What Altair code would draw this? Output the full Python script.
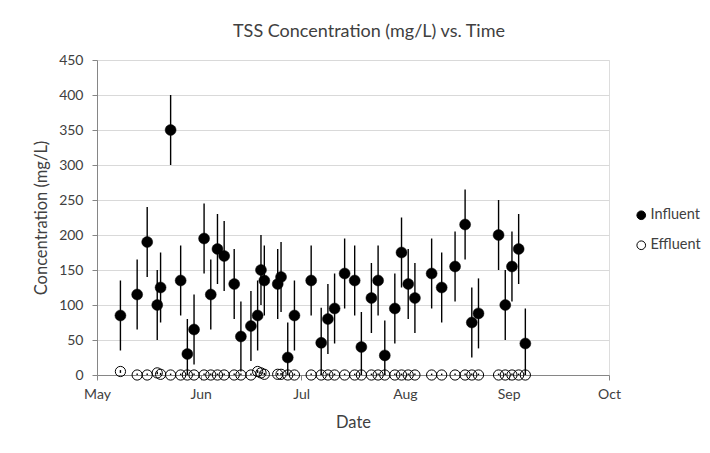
import altair as alt
import pandas as pd

dates = [
    "2013-05-08", "2013-05-13", "2013-05-16", "2013-05-19", "2013-05-20", "2013-05-23",
    "2013-05-26", "2013-05-28", "2013-05-30", "2013-06-02", "2013-06-04", "2013-06-06",
    "2013-06-08", "2013-06-11", "2013-06-13", "2013-06-16", "2013-06-18", "2013-06-19",
    "2013-06-20", "2013-06-24", "2013-06-25", "2013-06-27", "2013-06-29", "2013-07-04",
    "2013-07-07", "2013-07-09", "2013-07-11", "2013-07-14", "2013-07-17", "2013-07-19",
    "2013-07-22", "2013-07-24", "2013-07-26", "2013-07-29", "2013-07-31", "2013-08-02",
    "2013-08-04", "2013-08-09", "2013-08-12", "2013-08-16", "2013-08-19", "2013-08-21",
    "2013-08-23", "2013-08-29", "2013-08-31", "2013-09-02", "2013-09-04", "2013-09-06",
]
influent = [
    85, 115, 190, 100, 125, 350,
    135, 30, 65, 195, 115, 180,
    170, 130, 55, 70, 85, 150,
    135, 130, 140, 25, 85, 135,
    46, 80, 95, 145, 135, 40,
    110, 135, 28, 95, 175, 130,
    110, 145, 125, 155, 215, 75,
    88, 200, 100, 155, 180, 45,
]
influent_err = [50] * len(influent)
effluent = [
    5, 0, 0, 3, 1, 0,
    0, 0, 0, 0, 0, 0,
    0, 0, 0, 0, 5, 3,
    1, 1, 1, 0, 0, 0,
    0, 0, 0, 0, 0, 0,
    0, 0, 0, 0, 0, 0,
    0, 0, 0, 0, 0, 0,
    0, 0, 0, 0, 0, 0,
]
effluent_err = [2] * len(effluent)

series_names = ["Influent", "Effluent"]
month_ticks = ["2013-05-01", "2013-06-01", "2013-07-01", "2013-08-01", "2013-09-01", "2013-10-01"]

rows = []
for d, v, e in zip(dates, influent, influent_err):
    rows.append({"date": d, "value": v, "lo": v - e, "hi": v + e, "series": "Influent"})
for d, v, e in zip(dates, effluent, effluent_err):
    rows.append({"date": d, "value": v, "lo": v - e, "hi": v + e, "series": "Effluent"})
df = pd.DataFrame(rows)

FONT = "Lato"
TXT = "#404040"

x_enc = alt.X(
    "date:T",
    scale=alt.Scale(domain=[{"year": 2013, "month": 5, "date": 1}, {"year": 2013, "month": 10, "date": 1}]),
    axis=alt.Axis(
        title="Date", format="%b", values=month_ticks, grid=False, labelFlush=False,
        domainColor="#868686", tickColor="#868686", tickSize=5,
        labelFontSize=14, labelColor=TXT, labelPadding=7, titleFontSize=16.5,
        titleColor=TXT, titleFontWeight="normal", titlePadding=13, labelFont=FONT, titleFont=FONT,
    ),
)
y_scale = alt.Scale(domain=[0, 450], clamp=True, nice=False)
y_axis = alt.Axis(
    title="Concentration (mg/L)", values=list(range(0, 451, 50)), grid=True, gridColor="#d9d9d9",
    domainColor="#868686", tickColor="#868686", tickSize=5, labelFontSize=14, labelColor=TXT,
    labelPadding=9, titleFontSize=16.5, titleColor=TXT, titleFontWeight="normal", titlePadding=9,
    labelFont=FONT, titleFont=FONT, labelFlush=False,
)

bars = alt.Chart(df).transform_filter(alt.datum.series == "Influent").mark_rule(
    color="black", strokeWidth=1.4
).encode(
    x=x_enc,
    y=alt.Y("lo:Q", scale=y_scale, axis=y_axis),
    y2="hi:Q",
)

infl = alt.Chart(df).transform_filter(alt.datum.series == "Influent").mark_point(
    shape="circle", filled=True, size=120, opacity=1, stroke="black", strokeWidth=0.5
).encode(
    x=x_enc,
    y=alt.Y("value:Q", scale=y_scale, axis=y_axis),
    fill=alt.Fill("series:N", scale=alt.Scale(domain=series_names, range=["black", "white"]),
                  legend=alt.Legend(title=None, orient="none", legendX=537, legendY=148,
                                    symbolType="circle", symbolSize=75, symbolStrokeColor="black",
                                    symbolStrokeWidth=1, labelFontSize=14.5, labelColor=TXT,
                                    labelFont=FONT, rowPadding=15, labelOffset=2, labelLimit=200)),
)

effl_bars = alt.Chart(df).transform_filter(alt.datum.series == "Effluent").mark_rule(
    color="black", strokeWidth=1.4
).encode(x=x_enc, y=alt.Y("lo:Q", scale=y_scale, axis=y_axis), y2="hi:Q")

effl = alt.Chart(df).transform_filter(alt.datum.series == "Effluent").mark_point(
    shape="circle", filled=True, size=105, opacity=1, stroke="black", strokeWidth=1, fillOpacity=0
).encode(
    x=x_enc,
    y=alt.Y("value:Q", scale=y_scale, axis=y_axis),
    fill=alt.Fill("series:N", scale=alt.Scale(domain=series_names, range=["black", "white"])),
)

chart = (
    alt.layer(bars, infl, effl, effl_bars)
    .properties(
        width=512, height=315,
        title=alt.TitleParams("TSS Concentration (mg/L) vs. Time", fontSize=18, font=FONT,
                              color=TXT, fontWeight="normal", anchor="middle", dx=16, offset=12),
        autosize=alt.AutoSizeParams(type="none"),
        padding={"left": 89, "top": 52, "right": 93, "bottom": 70},
    )
    .configure_view(stroke=None)
    .configure(background="white")
)

chart.save("out.html", embed_options={"renderer": "svg", "actions": False})
